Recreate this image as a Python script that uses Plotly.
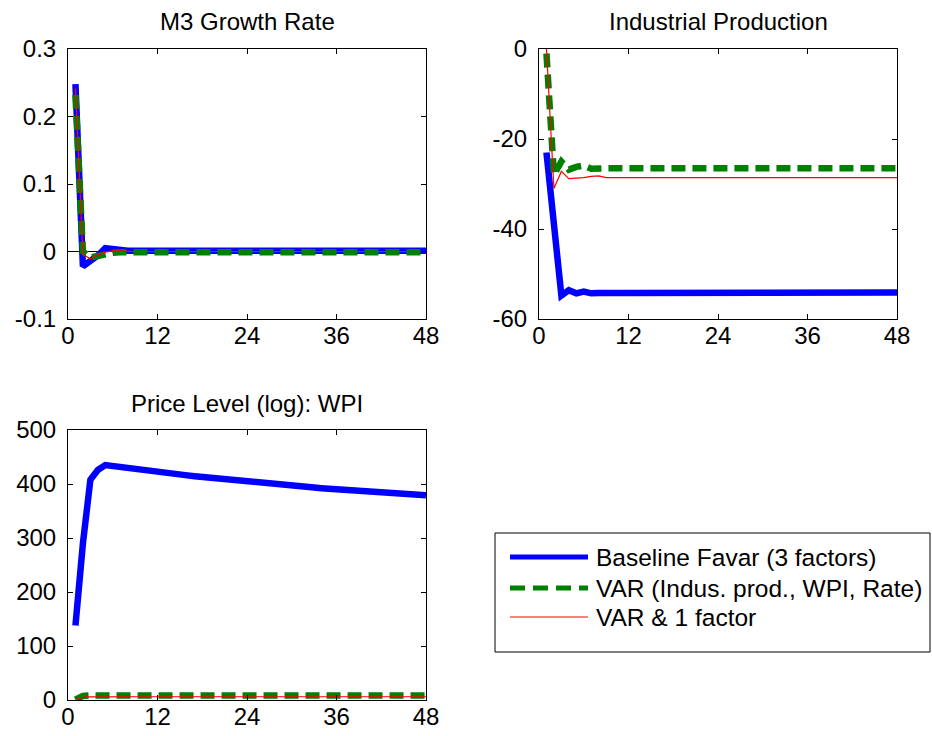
import plotly.graph_objects as go

# Impulse responses over a 48-month horizon
months = list(range(1, 49))

series_names = [
    "Baseline Favar (3 factors)",
    "VAR (Indus. prod., WPI, Rate)",
    "VAR & 1 factor",
]
panel_titles = ["M3 Growth Rate", "Industrial Production", "Price Level (log): WPI"]

x_ticks = [0, 12, 24, 36, 48]
x_tick_text = ["0", "12", "24", "36", "48"]

m3_ticks = [-0.1, 0, 0.1, 0.2, 0.3]
m3_tick_text = ["-0.1", "0", "0.1", "0.2", "0.3"]
ip_ticks = [-60, -40, -20, 0]
ip_tick_text = ["-60", "-40", "-20", "0"]
wpi_ticks = [0, 100, 200, 300, 400, 500]
wpi_tick_text = ["0", "100", "200", "300", "400", "500"]

# M3 growth rate responses
m3_baseline = [
    0.248, -0.022, -0.014, -0.006, 0.005, 0.003, 0.002, 0.001, 0.001, 0.001, 0.001, 0.001,
    0.001, 0.001, 0.001, 0.001, 0.001, 0.001, 0.001, 0.001, 0.001, 0.001, 0.001, 0.001,
    0.001, 0.001, 0.001, 0.001, 0.001, 0.001, 0.001, 0.001, 0.001, 0.001, 0.001, 0.001,
    0.001, 0.001, 0.001, 0.001, 0.001, 0.001, 0.001, 0.001, 0.001, 0.001, 0.001, 0.001,
]
m3_var = [
    0.232, 0.000, -0.009, -0.006, -0.003, -0.002, -0.001, -0.001, -0.001, -0.001, -0.001, -0.001,
    -0.001, -0.001, -0.001, -0.001, -0.001, -0.001, -0.001, -0.001, -0.001, -0.001, -0.001, -0.001,
    -0.001, -0.001, -0.001, -0.001, -0.001, -0.001, -0.001, -0.001, -0.001, -0.001, -0.001, -0.001,
    -0.001, -0.001, -0.001, -0.001, -0.001, -0.001, -0.001, -0.001, -0.001, -0.001, -0.001, -0.001,
]
m3_var1f = [
    0.242, -0.004, -0.011, -0.005, -0.001, 0.001, 0.001, 0.000, 0.000, 0.000, 0.000, 0.000,
    0.000, 0.000, 0.000, 0.000, 0.000, 0.000, 0.000, 0.000, 0.000, 0.000, 0.000, 0.000,
    0.000, 0.000, 0.000, 0.000, 0.000, 0.000, 0.000, 0.000, 0.000, 0.000, 0.000, 0.000,
    0.000, 0.000, 0.000, 0.000, 0.000, 0.000, 0.000, 0.000, 0.000, 0.000, 0.000, 0.000,
]

# Industrial production responses
ip_baseline = [
    -23.0, -39.0, -54.8, -53.6, -54.3, -53.9, -54.3, -54.2, -54.1, -54.2, -54.2, -54.2,
    -54.2, -54.2, -54.1, -54.1, -54.1, -54.1, -54.1, -54.1, -54.1, -54.1, -54.1, -54.1,
    -54.1, -54.1, -54.1, -54.1, -54.1, -54.1, -54.1, -54.1, -54.1, -54.1, -54.1, -54.1,
    -54.1, -54.1, -54.1, -54.1, -54.1, -54.1, -54.1, -54.1, -54.1, -54.1, -54.1, -54.1,
]
ip_var = [
    -1.0, -28.0, -25.0, -26.8, -26.2, -25.9, -26.6, -26.4, -26.5, -26.5, -26.5, -26.5,
    -26.5, -26.5, -26.5, -26.5, -26.5, -26.5, -26.5, -26.5, -26.5, -26.5, -26.5, -26.5,
    -26.5, -26.5, -26.5, -26.5, -26.5, -26.5, -26.5, -26.5, -26.5, -26.5, -26.5, -26.5,
    -26.5, -26.5, -26.5, -26.5, -26.5, -26.5, -26.5, -26.5, -26.5, -26.5, -26.5, -26.5,
]
ip_var1f = [
    0.0, -31.0, -27.2, -28.8, -28.7, -28.6, -28.3, -28.2, -28.6, -28.6, -28.6, -28.6,
    -28.6, -28.6, -28.6, -28.6, -28.6, -28.6, -28.6, -28.6, -28.6, -28.6, -28.6, -28.6,
    -28.6, -28.6, -28.6, -28.6, -28.6, -28.6, -28.6, -28.6, -28.6, -28.6, -28.6, -28.6,
    -28.6, -28.6, -28.6, -28.6, -28.6, -28.6, -28.6, -28.6, -28.6, -28.6, -28.6, -28.6,
]

# Wholesale price index responses
wpi_baseline = [
    138, 290, 408, 426, 435, 433, 431, 429, 427, 425, 423.5, 422,
    420.5, 419, 417.5, 416, 414.5, 413, 411.5, 410, 408.5, 407, 405.5, 404,
    402.8, 401.6, 400.4, 399.2, 398, 396.8, 395.6, 394.5, 393.4, 392.3, 391.2, 390,
    389, 388, 387, 386, 385.2, 384.3, 383.4, 382.5, 381.6, 380.8, 380, 379,
]
wpi_var = [
    0.5, 7.5, 8.4, 8.5, 8.5, 8.5, 8.5, 8.5, 8.5, 8.5, 8.5, 8.5,
    8.5, 8.5, 8.5, 8.5, 8.5, 8.5, 8.5, 8.5, 8.5, 8.5, 8.5, 8.5,
    8.5, 8.5, 8.5, 8.5, 8.5, 8.5, 8.5, 8.5, 8.5, 8.5, 8.5, 8.5,
    8.5, 8.5, 8.5, 8.5, 8.5, 8.5, 8.5, 8.5, 8.5, 8.5, 8.5, 8.5,
]
wpi_var1f = [
    0.0, 5.2, 5.8, 6.0, 6.0, 6.0, 6.0, 6.0, 6.0, 6.0, 6.0, 6.0,
    6.0, 6.0, 6.0, 6.0, 6.0, 6.0, 6.0, 6.0, 6.0, 6.0, 6.0, 6.0,
    6.0, 6.0, 6.0, 6.0, 6.0, 6.0, 6.0, 6.0, 6.0, 6.0, 6.0, 6.0,
    6.0, 6.0, 6.0, 6.0, 6.0, 6.0, 6.0, 6.0, 6.0, 6.0, 6.0, 6.0,
]

W, H = 932, 736
FONT = "Liberation Sans, Arial, sans-serif"
DASH = "14px,7px"

plot_styles = [
    dict(color="#0000ff", width=6.5),
    dict(color="#008000", width=6.5, dash=DASH),
    dict(color="#ff0000", width=1.2),
]
legend_styles = [
    dict(color="#0000ff", width=5),
    dict(color="#008000", width=5, dash="15px,8px"),
    dict(color="#ff0000", width=1.2),
]


def xdom(left, right):
    return [left / W, right / W]


def ydom(top, bottom):
    return [1 - bottom / H, 1 - top / H]


fig = go.Figure()

panels = [
    ("x", "y", [m3_baseline, m3_var, m3_var1f]),
    ("x2", "y2", [ip_baseline, ip_var, ip_var1f]),
    ("x3", "y3", [wpi_baseline, wpi_var, wpi_var1f]),
]
for xa, ya, series in panels:
    for name, values, style in zip(series_names, series, plot_styles):
        fig.add_trace(go.Scatter(
            x=months, y=values, name=name, mode="lines",
            line=style, xaxis=xa, yaxis=ya, showlegend=False,
        ))

common_axis = dict(
    showline=True, linecolor="black", linewidth=1, mirror="ticks",
    ticks="inside", ticklen=5, tickcolor="black", tickwidth=1,
    showgrid=False, zeroline=False, automargin=False,
    tickfont=dict(family=FONT, size=24, color="black"),
)


def xaxis_cfg(domain, anchor):
    return dict(common_axis, domain=domain, anchor=anchor, range=[0, 48],
                tickmode="array", tickvals=x_ticks, ticktext=x_tick_text,
                ticklabelstandoff=-5)


def yaxis_cfg(domain, anchor, rng, vals, text, zero=False):
    cfg = dict(common_axis, domain=domain, anchor=anchor, range=rng,
               tickmode="array", tickvals=vals, ticktext=text,
               ticklabelstandoff=6)
    if zero:
        cfg.update(zeroline=True, zerolinecolor="black", zerolinewidth=1)
    return cfg


top_row = ydom(49, 319)
bottom_row = ydom(430, 700)
left_col = xdom(68, 426)
right_col = xdom(539, 897)

fig.update_layout(
    width=W, height=H,
    margin=dict(l=0, r=0, t=0, b=0, autoexpand=False),
    paper_bgcolor="white", plot_bgcolor="white",
    font=dict(family=FONT, size=24, color="black"),
    showlegend=False,
    xaxis=xaxis_cfg(left_col, "y"),
    yaxis=yaxis_cfg(top_row, "x", [-0.1, 0.3], m3_ticks, m3_tick_text, zero=True),
    xaxis2=xaxis_cfg(right_col, "y2"),
    yaxis2=yaxis_cfg(top_row, "x2", [-60, 0], ip_ticks, ip_tick_text),
    xaxis3=xaxis_cfg(left_col, "y3"),
    yaxis3=yaxis_cfg(bottom_row, "x3", [0, 500], wpi_ticks, wpi_tick_text),
)

# Panel titles
title_pos = [(247, 22), (718, 22), (247, 403)]
for text, (cx, cy) in zip(panel_titles, title_pos):
    fig.add_annotation(
        text=text, xref="paper", yref="paper", x=cx / W, y=1 - cy / H,
        xanchor="center", yanchor="middle", showarrow=False,
        font=dict(family=FONT, size=24, color="black"),
    )

# Legend box with line samples
fig.add_shape(type="rect", xref="paper", yref="paper",
              x0=495 / W, x1=930 / W, y0=1 - 652 / H, y1=1 - 533 / H,
              line=dict(color="black", width=1), fillcolor="white", layer="above")
legend_rows = [557, 588, 617]
for name, style, ry in zip(series_names, legend_styles, legend_rows):
    fig.add_shape(type="line", xref="paper", yref="paper",
                  x0=510 / W, x1=588 / W, y0=1 - ry / H, y1=1 - ry / H,
                  line=style, layer="above")
    fig.add_annotation(
        text=name, xref="paper", yref="paper", x=594 / W, y=1 - ry / H,
        xanchor="left", yanchor="middle", showarrow=False,
        font=dict(family=FONT, size=24.5, color="black"),
    )

fig.write_html("out.html")
